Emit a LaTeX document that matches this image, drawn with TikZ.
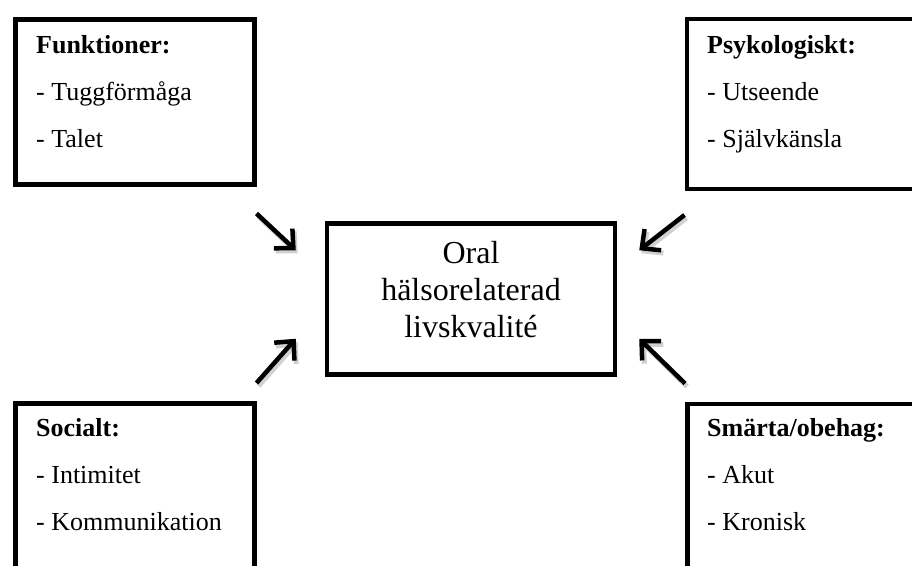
\documentclass[tikz,border=0pt]{standalone}
\usepackage{fontspec}
\setmainfont{Liberation Serif}
\usetikzlibrary{arrows.meta,positioning}

\begin{document}
\begin{tikzpicture}[x=1pt, y=-1pt,
    box/.style={rectangle, draw, line width=4.5pt, minimum width=239pt, minimum height=165pt, anchor=north west, inner sep=0pt},
    lbl/.style={anchor=base west, align=left, inner sep=0pt, font=\fontsize{26}{47}\selectfont},
    arr/.style={line width=4.5pt, -{Straight Barb[length=14pt, width=27pt]},
      preaction={draw=black!18, line width=5pt, transform canvas={shift={(2pt,-3pt)}}}}]
  \useasboundingbox (0,0) rectangle (912,565);

  % Funktioner
  \node[box] (fun) at (13,17) {};
  \node[lbl] (funtxt) at (36,147.5) {\textbf{Funktioner:}\\- Tuggförmåga\\- Talet};

  % Psykologiskt
  \node[box, minimum width=300pt, minimum height=170pt] (psy) at (684.5,16.5) {};
  \node[lbl] (psytxt) at (707,147.5) {\textbf{Psykologiskt:}\\- Utseende\\- Självkänsla};

  % Socialt
  \node[box, minimum height=200pt] (soc) at (13,401) {};
  \node[lbl] (soctxt) at (36,530) {\textbf{Socialt:}\\- Intimitet\\- Kommunikation};

  % Smarta/obehag
  \node[box, minimum width=300pt, minimum height=200pt] (sma) at (685,401.5) {};
  \node[lbl] (smatxt) at (707,530) {\textbf{Smärta/obehag:}\\- Akut\\- Kronisk};

  % Oral halsorelaterad livskvalite
  \node[rectangle, draw, line width=4.5pt, minimum width=288pt, minimum height=151pt, inner sep=0pt] (ctr) at (471,299) {};
  \node[align=center, inner sep=0pt, font=\fontsize{32}{37}\selectfont] (ctrtxt) at (471,289.5) {Oral\\hälsorelaterad\\livskvalité};

  % arrows
  \draw[arr] ([shift={(0,27)}]fun.south east) -- ([shift={(-29,29)}]ctr.north west);
  \draw[arr] ([shift={(0,24)}]psy.south west) -- ([shift={(22,29)}]ctr.north east);
  \draw[arr] ([shift={(0,-18)}]soc.north east) -- ([shift={(-29,-38)}]ctr.south west);
  \draw[arr] ([shift={(0,-18)}]sma.north west) -- ([shift={(22,-38)}]ctr.south east);
\end{tikzpicture}
\end{document}
